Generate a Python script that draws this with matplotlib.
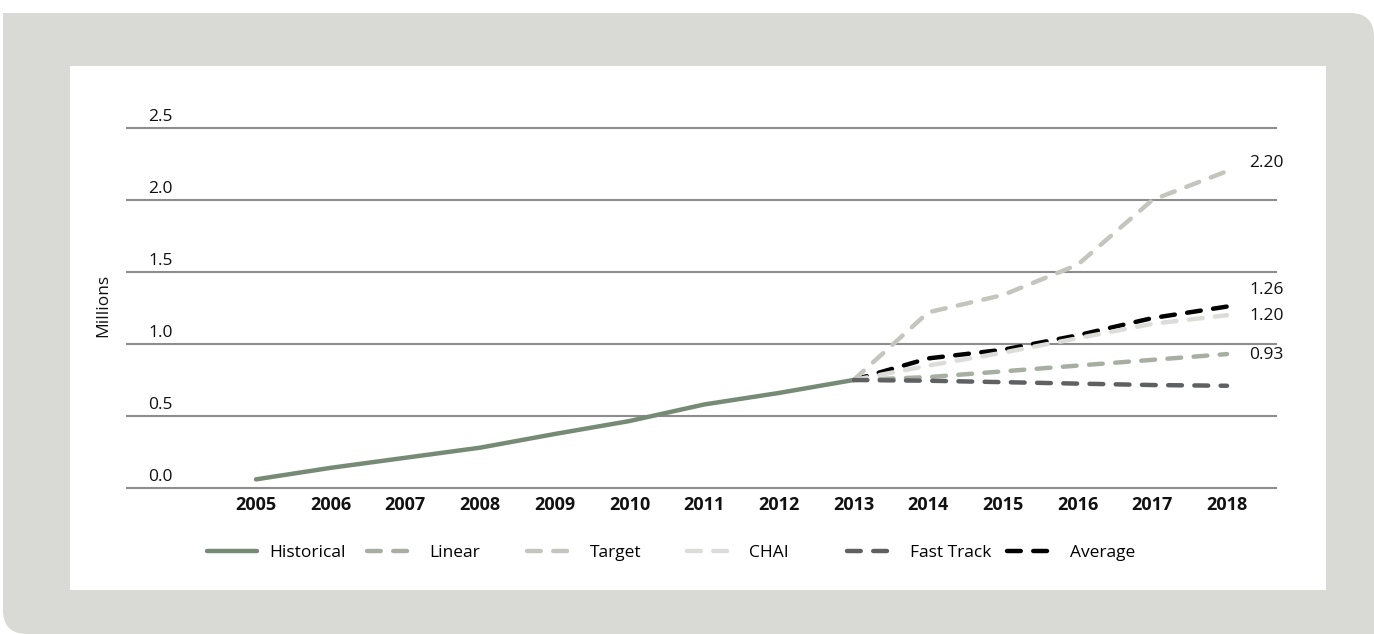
import matplotlib
matplotlib.use("Agg")
import matplotlib.pyplot as plt
from matplotlib.patches import FancyBboxPatch, Rectangle
from matplotlib.lines import Line2D
import matplotlib.transforms as mtransforms

plt.rcParams['font.family'] = ['Open Sans', 'DejaVu Sans']

# historical series and the five projections (millions)
years_hist = [2005, 2006, 2007, 2008, 2009, 2010, 2011, 2012, 2013]
historical = [0.06, 0.14, 0.21, 0.28, 0.375, 0.465, 0.58, 0.66, 0.75]

years_proj = [2013, 2014, 2015, 2016, 2017, 2018]
linear = [0.75, 0.77, 0.81, 0.85, 0.89, 0.93]
target = [0.75, 1.22, 1.34, 1.55, 2.00, 2.20]
chai = [0.75, 0.85, 0.94, 1.04, 1.14, 1.20]
fast_track = [0.75, 0.745, 0.735, 0.725, 0.715, 0.71]
average = [0.75, 0.90, 0.96, 1.06, 1.18, 1.26]

year_ticks = list(range(2005, 2019))
y_ticks = [0.0, 0.5, 1.0, 1.5, 2.0, 2.5]

W, H = 1374, 634
fig = plt.figure(figsize=(W / 100, H / 100), dpi=100, facecolor='white')

# background panel in pixel coordinates: rounded top-right and bottom-left
bg = fig.add_axes([0, 0, 1, 1])
bg.set_xlim(0, W)
bg.set_ylim(H, 0)
bg.axis('off')
panel = '#d9dad5'
bg.add_patch(FancyBboxPatch((3, 13), W - 3, H - 13,
                            boxstyle='round,pad=0,rounding_size=24',
                            fc=panel, ec='none'))
bg.add_patch(Rectangle((3, 13), 60, 60, fc=panel, ec='none'))
bg.add_patch(Rectangle((W - 60, H - 60), 60, 60, fc=panel, ec='none'))
bg.add_patch(Rectangle((70, 66), 1256, 524, fc='white', ec='none'))

# plot area
x0, x1, ytop, ybot = 127, 1276, 128, 488
ax = fig.add_axes([x0 / W, 1 - ybot / H, (x1 - x0) / W, (ybot - ytop) / H])
ax.set_facecolor('none')
ax.set_xlim(2003.273, 2018.656)
ax.set_ylim(0, 2.5)
for s in ax.spines.values():
    s.set_visible(False)

for v in y_ticks:
    ax.axhline(v, color='#8c8c8c', lw=1.5, zorder=1, clip_on=False)
ax.set_yticks([])
lab_tr = mtransforms.offset_copy(ax.transData, fig=fig, x=0, y=5, units='points')
lab_tr = mtransforms.blended_transform_factory(ax.transAxes, lab_tr)
for v in y_ticks:
    ax.text(0.04, v, f'{v:.1f}', transform=lab_tr, ha='right', va='baseline',
            fontsize=12.5, color='#111111')

ax.set_xticks(year_ticks)
ax.set_xticklabels([str(y) for y in year_ticks], fontsize=13, fontweight='bold',
                   color='#111111')
ax.tick_params(axis='x', length=0, pad=6)

lw = 3.2
dash = (3.1, 2.8)
styles = [
    ('Historical', years_hist, historical, '#768a76', None),
    ('Average', years_proj, average, '#000000', dash),
    ('Linear', years_proj, linear, '#a7afa3', dash),
    ('Target', years_proj, target, '#c4c6be', dash),
    ('CHAI', years_proj, chai, '#dcdcd8', dash),
    ('Fast Track', years_proj, fast_track, '#5f6062', dash),
]
handles = {}
for name, xs, ys, col, d in styles:
    line, = ax.plot(xs, ys, color=col, lw=lw, solid_capstyle='round',
                    dash_capstyle='round', clip_on=False, zorder=3)
    if d:
        line.set_dashes(d)
    handles[name] = line

# end-of-line value labels
end_labels = [(target, 0.057), (average, 0.115), (chai, -0.006), (linear, -0.006)]
end_tr = mtransforms.offset_copy(ax.transData, fig=fig, x=16, y=0, units='points')
for series, dy in end_labels:
    ax.text(years_proj[-1], series[-1] + dy, f'{series[-1]:.2f}', transform=end_tr,
            ha='left', va='center', fontsize=12.5, color='#111111')

fig.text(103 / W, 1 - 305 / H, 'Millions', rotation=90, ha='center', va='center',
         fontsize=12.5, color='#111111')

# legend, one fixed-width column per series
order = ['Historical', 'Linear', 'Target', 'CHAI', 'Fast Track', 'Average']
for i, name in enumerate(order):
    h = handles[name]
    proxy = Line2D([], [], color=h.get_color(), lw=lw, solid_capstyle='round',
                   dash_capstyle='round')
    if name != 'Historical':
        proxy.set_dashes(dash)
    fig.legend(handles=[proxy], labels=[name], loc='center left',
               bbox_to_anchor=((207 + i * 160) / W, 1 - 553 / H),
               frameon=False, fontsize=12.5, handlelength=2.9, handletextpad=0.7,
               borderpad=0, borderaxespad=0)

fig.savefig('out.png', dpi=100, facecolor='white')
